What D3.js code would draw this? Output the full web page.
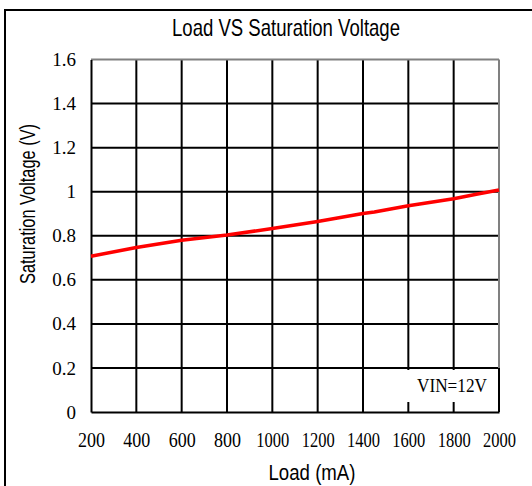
<!DOCTYPE html>
<html><head><meta charset="utf-8">
<script src="https://cdn.jsdelivr.net/npm/d3@7"></script>
<style>body{margin:0;background:#fff}svg{display:block}</style>
</head><body>
<script>
const loads = [200, 400, 600, 800, 1000, 1200, 1400, 1450, 1600, 1700, 1800, 1900, 2000];
const voltages = [0.707, 0.747, 0.780, 0.803, 0.833, 0.865, 0.901, 0.908, 0.936, 0.952, 0.968, 0.988, 1.008];
const xTicks = [200, 400, 600, 800, 1000, 1200, 1400, 1600, 1800, 2000];
const yTicks = [0, 0.2, 0.4, 0.6, 0.8, 1, 1.2, 1.4, 1.6];
const yTickLabels = ["0", "0.2", "0.4", "0.6", "0.8", "1", "1.2", "1.4", "1.6"];
const title = "Load VS Saturation Voltage";
const xTitle = "Load (mA)";
const yTitle = "Saturation Voltage (V)";
const note = "VIN=12V";

const W = 532, H = 486;
const L = 91, R = 499, T = 59.5, B = 412;
const svg = d3.select("body").append("svg").attr("width", W).attr("height", H);

svg.append("rect").attr("x", 5).attr("y", 10).attr("width", 700).attr("height", 700)
  .attr("fill", "none").attr("stroke", "#000").attr("stroke-width", 2);

const x = d3.scaleLinear().domain([200, 2000]).range([L, R]);
const y = d3.scaleLinear().domain([0, 1.6]).range([B, T]);

const narrow = "'Liberation Sans Narrow','Liberation Sans',Arial,sans-serif";
const serif = "'Liberation Serif','Times New Roman',serif";

// grid
const g = svg.append("g");
g.selectAll("line.h").data(yTicks.slice(1, -1)).join("line")
  .attr("x1", L).attr("x2", R).attr("y1", d => y(d)).attr("y2", d => y(d))
  .attr("stroke", "#000").attr("stroke-width", 2);
g.selectAll("line.v").data(xTicks.slice(1, -1)).join("line")
  .attr("y1", T).attr("y2", B).attr("x1", d => x(d)).attr("x2", d => x(d))
  .attr("stroke", "#000").attr("stroke-width", 2);

// note box
svg.append("rect").attr("x", 402).attr("y", 370).attr("width", R - 402).attr("height", 32).attr("fill", "#fff");
svg.append("text").attr("x", 452).attr("y", 392).attr("text-anchor", "middle")
  .attr("font-family", serif).attr("font-size", 18).attr("textLength", 70)
  .attr("lengthAdjust", "spacingAndGlyphs").text(note);

// frame
svg.append("line").attr("x1", L).attr("x2", R).attr("y1", T).attr("y2", T).attr("stroke", "#808080").attr("stroke-width", 2);
svg.append("line").attr("x1", R).attr("x2", R).attr("y1", T).attr("y2", B).attr("stroke", "#808080").attr("stroke-width", 2);
svg.append("line").attr("x1", R).attr("x2", R).attr("y1", 368).attr("y2", B).attr("stroke", "#000").attr("stroke-width", 2);

// axes
const xAxis = svg.append("g").attr("transform", `translate(0,${B})`)
  .call(d3.axisBottom(x).tickValues(xTicks).tickSize(0).tickPadding(21).tickFormat(d3.format("d")));
xAxis.select(".domain").attr("stroke", "#000").attr("stroke-width", 2);
xAxis.selectAll("text").attr("font-family", serif).attr("font-size", 20).attr("fill", "#000")
  .attr("textLength", d => String(d).length === 3 ? 27 : 33).attr("lengthAdjust", "spacingAndGlyphs");

const yAxis = svg.append("g").attr("transform", `translate(${L},0)`)
  .call(d3.axisLeft(y).tickValues(yTicks).tickSize(0).tickPadding(15).tickFormat((d, i) => yTickLabels[i]));
yAxis.select(".domain").attr("stroke", "#000").attr("stroke-width", 2);
yAxis.selectAll("text").attr("font-family", serif).attr("font-size", 19).attr("fill", "#000");

// line
svg.append("path").datum(loads.map((d, i) => [d, voltages[i]]))
  .attr("fill", "none").attr("stroke", "#ff0000").attr("stroke-width", 3.5)
  .attr("stroke-linejoin", "round")
  .attr("d", d3.line().x(d => x(d[0])).y(d => y(d[1])));

// titles
svg.append("text").attr("x", 286).attr("y", 36).attr("text-anchor", "middle")
  .attr("font-family", narrow).attr("font-size", 24).attr("textLength", 228)
  .attr("lengthAdjust", "spacingAndGlyphs").text(title);
svg.append("text").attr("x", 312).attr("y", 480).attr("text-anchor", "middle")
  .attr("font-family", narrow).attr("font-size", 22).attr("textLength", 87)
  .attr("lengthAdjust", "spacingAndGlyphs").text(xTitle);
svg.append("text").attr("transform", "translate(35,204) rotate(-90)").attr("text-anchor", "middle")
  .attr("font-family", narrow).attr("font-size", 22).attr("textLength", 160)
  .attr("lengthAdjust", "spacingAndGlyphs").text(yTitle);
</script>
</body></html>
